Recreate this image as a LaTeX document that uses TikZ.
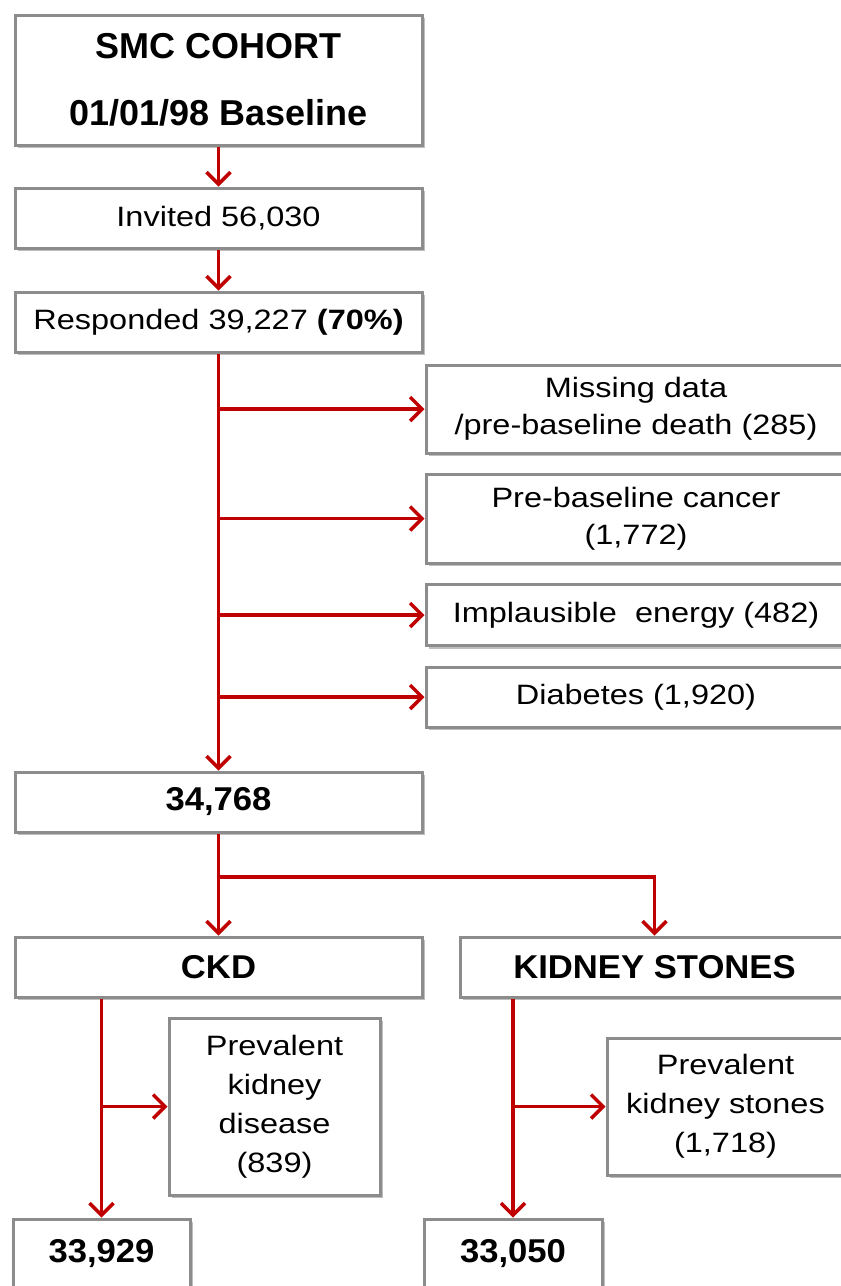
\documentclass[tikz,border=0pt]{standalone}
\usepackage{fontspec}
\setmainfont{Liberation Sans}[FakeStretch=1.16]
\newfontfamily\titlefont{Liberation Sans}
\newfontfamily\numfont{Liberation Sans}[FakeStretch=1.05]
\usetikzlibrary{arrows.meta,shadows}
\definecolor{arrred}{RGB}{192,0,0}
\definecolor{boxgray}{RGB}{140,140,140}
\begin{document}
\begin{tikzpicture}[x=1pt,y=-1pt,
  box/.style={draw=boxgray, line width=3pt, fill=white,
    drop shadow={shadow xshift=3pt, shadow yshift=-3pt, fill=black!25, opacity=1},
    inner sep=0pt, align=center, font=\fontsize{28}{37}\selectfont},
  bbox/.style={box, font=\numfont\bfseries\fontsize{33}{37}\selectfont},
  arr/.style={draw=arrred, line width=3.5pt, -{Straight Barb[length=12pt,width=24pt]}}]
\useasboundingbox (0,0) rectangle (841,1286);
\clip (0,0) rectangle (841,1286);
\fill[white] (0,0) rectangle (841,1286);

\node[box, minimum width=407pt, minimum height=130pt,
  font=\titlefont\bfseries\fontsize{36}{67}\selectfont] (smc) at (218.5,80) {SMC COHORT\\01/01/98 Baseline};
\node[box, minimum width=407pt, minimum height=60pt] (inv) at (218.5,218) {Invited 56,030};
\node[box, minimum width=407pt, minimum height=60pt] (resp) at (218.5,322) {Responded 39,227 \textbf{(70\%)}};

\node[box, minimum width=420pt, minimum height=88pt] (miss) at (636,409) {Missing data\\/pre-baseline death (285)};
\node[box, minimum width=420pt, minimum height=89pt] (canc) at (636,518.5) {Pre-baseline cancer\\(1,772)};
\node[box, minimum width=420pt, minimum height=61pt] (impl) at (636,615) {Implausible\ \ energy (482)};
\node[box, minimum width=420pt, minimum height=60pt] (diab) at (636,697) {Diabetes (1,920)};

\node[bbox, minimum width=407pt, minimum height=60pt] (tot) at (218.5,802) {34,768};
\node[bbox, minimum width=407pt, minimum height=60pt] (ckd) at (218.5,967) {CKD};
\node[bbox, minimum width=389pt, minimum height=60pt] (ks) at (654.5,967) {KIDNEY STONES};

\node[box, minimum width=211pt, minimum height=177pt, font=\fontsize{28}{39}\selectfont] (pkd) at (274.5,1106.5) {Prevalent\\kidney\\disease\\(839)};
\node[box, minimum width=237pt, minimum height=137pt, font=\fontsize{28}{39}\selectfont] (pks) at (725.5,1106.5) {Prevalent\\kidney stones\\(1,718)};

\node[bbox, minimum width=177pt, minimum height=70pt] (c1) at (101.5,1254) {33,929};
\node[bbox, minimum width=178pt, minimum height=70pt] (c2) at (513,1254) {33,050};

\coordinate (br) at (218.5,877);

\draw[arr] (smc) -- (inv);
\draw[arr] (inv) -- (resp);
\draw[arr] (resp) -- (tot);
\draw[arr] (resp.south |- miss.west) -- (miss.west);
\draw[arr] (resp.south |- canc.west) -- (canc.west);
\draw[arr] (resp.south |- impl.west) -- (impl.west);
\draw[arr] (resp.south |- diab.west) -- (diab.west);
\draw[arr] (tot) -- (ckd);
\draw[arr] (br) -| (ks.north);
\draw[arr] (ckd.south -| c1.north) -- (c1.north);
\draw[arr] (c1.north |- pkd.west) -- (pkd.west);
\draw[arr] (ks.south -| c2.north) -- (c2.north);
\draw[arr] (c2.north |- pks.west) -- (pks.west);
\end{tikzpicture}
\end{document}
